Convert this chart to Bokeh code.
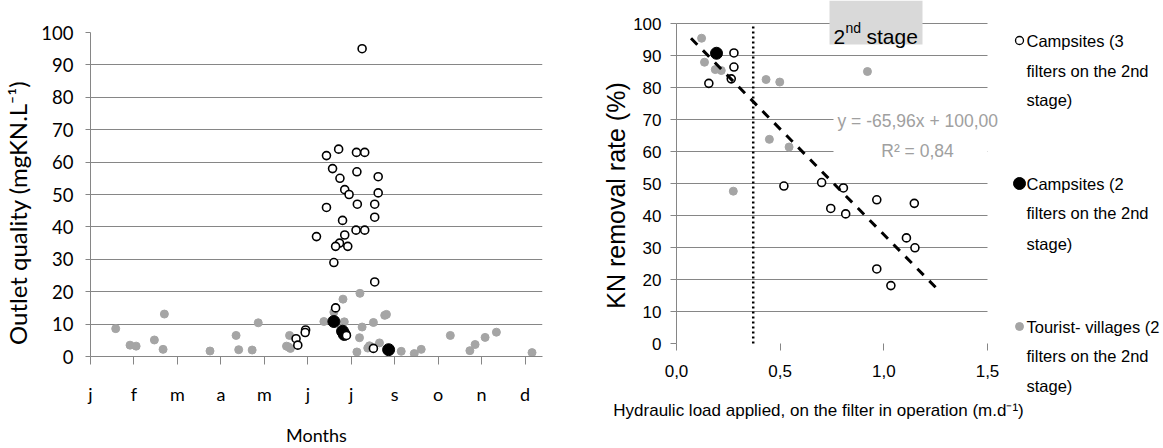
import math
from bokeh.plotting import figure
from bokeh.layouts import row
from bokeh.models import FixedTicker, Range1d
from bokeh.core.properties import value
from bokeh.embed import file_html
from bokeh.resources import INLINE

# ---------------- Left panel data (outlet quality by month) ----------------
month_labels = ["j", "f", "m", "a", "m", "j", "j", "s", "o", "n", "d"]
month_ticks = list(range(len(month_labels)))
kn_ticks = list(range(0, 101, 10))

camp3_month = [6.25, 5.43, 5.71, 6.12, 6.31, 5.57, 6.13, 5.74, 6.62, 5.85, 5.95, 6.62,
               5.43, 6.14, 6.54, 6.54, 5.80, 6.11, 6.31, 5.85, 5.20, 5.73, 5.64, 5.92,
               5.60, 6.54, 5.64, 4.95, 4.94, 4.73, 4.77, 5.89, 6.51]
camp3_kn = [95, 62, 64, 63, 63, 58, 57, 55, 55.5, 51.5, 50, 50.5,
            46, 47, 47, 43, 42, 39, 39, 37.5, 37, 35, 34, 34,
            29, 23, 15, 8.2, 7.4, 5.5, 3.5, 6.5, 2.5]

camp2_month = [5.60, 5.80, 5.84, 6.86]
camp2_kn = [10.8, 7.8, 6.8, 2.1]

tour_month = [0.58, 0.91, 1.05, 1.47, 1.70, 1.67, 2.75, 3.35, 3.41, 3.72, 3.86, 4.58,
              4.51, 4.60, 4.55, 5.37, 5.60, 5.81, 5.84, 6.20, 6.25, 6.19, 6.13, 6.38,
              6.42, 6.51, 6.65, 6.77, 6.81, 7.15, 7.45, 7.61, 8.28, 8.73, 8.85, 9.08,
              9.34, 10.16]
tour_kn = [8.6, 3.5, 3.2, 5.1, 13.1, 2.2, 1.7, 6.5, 2.1, 2.0, 10.4, 6.5,
           3.2, 2.5, 3.0, 10.8, 13.7, 17.7, 10.7, 19.5, 9.1, 5.8, 1.4, 2.6,
           3.3, 10.5, 4.2, 12.7, 13.0, 1.6, 0.9, 2.2, 6.5, 1.8, 3.7, 5.9,
           7.5, 1.2]

# ---------------- Right panel data (removal rate vs hydraulic load) ----------------
load_ticks = [0, 0.5, 1.0, 1.5]
load_tick_labels = ["0,0", "0,5", "1,0", "1,5"]
rate_ticks = list(range(0, 101, 10))

r_camp3_load = [0.277, 0.277, 0.264, 0.156, 0.518, 0.700, 0.805, 0.744, 0.816,
                0.966, 1.147, 1.109, 1.150, 0.966, 1.034]
r_camp3_rate = [90.8, 86.4, 82.7, 81.3, 49.2, 50.3, 48.6, 42.2, 40.5,
                44.9, 43.8, 33.0, 29.9, 23.3, 18.1]
r_camp2_load = [0.193]
r_camp2_rate = [90.7]
r_tour_load = [0.121, 0.135, 0.187, 0.216, 0.432, 0.498, 0.448, 0.543, 0.274, 0.921]
r_tour_rate = [95.4, 87.9, 85.6, 85.3, 82.5, 81.7, 63.8, 61.4, 47.6, 85.0]

reg_slope = -65.96
reg_intercept = 100.00
reg_x = [0.07, 1.26]
reg_y = [reg_slope * x + reg_intercept for x in reg_x]
stage_limit = 0.37

legend_lines = [
    ["Campsites (3", "filters on the 2nd", "stage)"],
    ["Campsites (2", "filters on the 2nd", "stage)"],
    ["Tourist- villages (2", "filters on the 2nd", "stage)"],
]

GRID = "#868686"
GRAYPT = "#a5a5a5"
FONT_L = "Lato"
FONT_R = "Liberation Sans"
NB = "\u00a0"
H = 448
W = 1163

# ---- pixel geometry of the reference ----
P1_W = 554
L_LEFT, L_RIGHT, L_TOP, L_BOTTOM = 88, 542, 32, 358
L_MPX = 43.65

R_START = P1_W
R_LEFT = 676                       # pixel of x = 0
R_X15 = 987                        # pixel of x = 1.5
R_XPX = (R_X15 - R_LEFT) / 1.5
R_Y0, R_Y100 = 343, 23
R_PPU = (R_Y0 - R_Y100) / 100.0


def rx(px):
    return (px - R_LEFT) / R_XPX


def ry(py):
    return (R_Y0 - py) / R_PPU


# ================= Left figure =================
p1 = figure(width=P1_W, height=H,
            x_range=Range1d(0, (L_RIGHT - L_LEFT) / L_MPX), y_range=Range1d(0, 100),
            min_border_left=L_LEFT, min_border_right=P1_W - L_RIGHT,
            min_border_top=L_TOP, min_border_bottom=H - L_BOTTOM,
            toolbar_location=None, output_backend="svg")
p1.frame_align = False
p1.outline_line_color = None

p1.xaxis.ticker = FixedTicker(ticks=month_ticks)
p1.xaxis.major_label_overrides = {i: lab for i, lab in enumerate(month_labels)}
p1.xaxis.axis_line_color = GRID
p1.xaxis.major_tick_line_color = GRID
p1.xaxis.major_tick_in = 0
p1.xaxis.major_tick_out = 8
p1.xaxis.minor_tick_line_color = None
p1.xaxis.major_label_text_font = FONT_L
p1.xaxis.major_label_text_font_size = "18px"
p1.xaxis.major_label_text_color = "black"
p1.xaxis.major_label_standoff = 18
p1.xaxis.axis_label = "Months"
p1.xaxis.axis_label_text_font = FONT_L
p1.xaxis.axis_label_text_font_size = "18px"
p1.xaxis.axis_label_text_font_style = "normal"
p1.xaxis.axis_label_text_color = "black"
p1.xaxis.axis_label_standoff = 16

p1.yaxis.ticker = FixedTicker(ticks=kn_ticks)
p1.yaxis.axis_line_color = GRID
p1.yaxis.major_tick_line_color = GRID
p1.yaxis.major_tick_in = 0
p1.yaxis.major_tick_out = 5
p1.yaxis.minor_tick_line_color = None
p1.yaxis.major_label_text_font = FONT_L
p1.yaxis.major_label_text_font_size = "18.5px"
p1.yaxis.major_label_text_color = "black"
p1.yaxis.major_label_standoff = 12
p1.yaxis.axis_label = "Outlet quality (mgKN.L\u207b\u00b9)" + NB * 6
p1.yaxis.axis_label_text_font = FONT_L
p1.yaxis.axis_label_text_font_size = "24px"
p1.yaxis.axis_label_text_font_style = "normal"
p1.yaxis.axis_label_text_color = "black"
p1.yaxis.axis_label_standoff = 6

p1.xgrid.grid_line_color = None
p1.ygrid.ticker = FixedTicker(ticks=kn_ticks[1:])
p1.ygrid.grid_line_color = GRID

p1.scatter(tour_month, tour_kn, size=8, fill_color=GRAYPT, line_color=GRAYPT)
p1.scatter(camp2_month, camp2_kn, size=12, fill_color="black", line_color="black")
p1.scatter(camp3_month, camp3_kn, size=8, fill_color="white", line_color="black", line_width=1.6)

# ================= Right figure: frame covers the whole canvas, axes at fixed locations =================
W2 = W - R_START
p2 = figure(width=W2, height=H,
            x_range=Range1d(rx(R_START), rx(W)), y_range=Range1d(ry(H), ry(0)),
            min_border=0, toolbar_location=None, output_backend="svg")
p2.frame_align = False
p2.outline_line_color = None

p2.xaxis.fixed_location = 0
p2.xaxis.ticker = FixedTicker(ticks=load_ticks)
p2.xaxis.major_label_overrides = {t: l for t, l in zip(load_ticks, load_tick_labels)}
p2.xaxis.axis_line_color = None
p2.xaxis.major_tick_line_color = GRID
p2.xaxis.major_tick_in = 0
p2.xaxis.major_tick_out = 7
p2.xaxis.minor_tick_line_color = None
p2.xaxis.major_label_text_font = FONT_R
p2.xaxis.major_label_text_font_size = "17px"
p2.xaxis.major_label_text_color = "black"
p2.xaxis.major_label_standoff = 14

p2.yaxis.fixed_location = 0
p2.yaxis.ticker = FixedTicker(ticks=rate_ticks)
p2.yaxis.axis_line_color = None
p2.yaxis.major_tick_line_color = GRID
p2.yaxis.major_tick_in = 0
p2.yaxis.major_tick_out = 6
p2.yaxis.minor_tick_line_color = None
p2.yaxis.major_label_text_font = FONT_R
p2.yaxis.major_label_text_font_size = "17px"
p2.yaxis.major_label_text_color = "black"
p2.yaxis.major_label_standoff = 9

p2.grid.grid_line_color = None
# horizontal gridlines only across the plotting area (0 .. 1.5)
grid_levels = rate_ticks[1:]
p2.segment(x0=[load_ticks[0]] * len(grid_levels), y0=grid_levels,
           x1=[load_ticks[-1]] * len(grid_levels), y1=grid_levels, line_color=GRID, line_width=1)
# y axis line from 0 to 100
p2.segment(x0=[0], y0=[rate_ticks[0]], x1=[0], y1=[rate_ticks[-1]], line_color=GRID, line_width=1)

# "2nd stage" box and white box behind the equation
p2.quad(left=[rx(829)], right=[rx(922)], bottom=[ry(44)], top=[ry(0)],
        fill_color="#d9d9d9", line_color=None)
p2.quad(left=[rx(833)], right=[load_ticks[-1]], bottom=[55], top=[76], fill_color="white", line_color=None)

p2.text(x=[rx(833)], y=[ry(36)], text=["2"], text_font=value(FONT_R), text_font_size="21px",
        text_baseline="alphabetic", text_color="black")
p2.text(x=[rx(845)], y=[ry(27)], text=["nd"], text_font=value(FONT_R), text_font_size="14px",
        text_baseline="alphabetic", text_color="black")
p2.text(x=[rx(866)], y=[ry(36)], text=["stage"], text_font=value(FONT_R), text_font_size="21px",
        text_baseline="alphabetic", text_color="black")

# vertical dotted stage limit
p2.segment(x0=[stage_limit], y0=[0], x1=[stage_limit], y1=[100], line_color="black",
           line_width=2.5, line_dash="2 3")

p2.scatter(r_tour_load, r_tour_rate, size=8, fill_color=GRAYPT, line_color=GRAYPT)
p2.scatter(r_camp3_load, r_camp3_rate, size=8, fill_color="white", line_color="black", line_width=1.6)
p2.line(reg_x, reg_y, line_color="black", line_width=3, line_dash="9 8")
p2.scatter(r_camp2_load, r_camp2_rate, size=12, fill_color="black", line_color="black")

# regression equation
p2.text(x=[rx(837)], y=[ry(120)], text=["y = -65,96x + 100,00"], text_font=value(FONT_R),
        text_font_size="17.5px", text_color="#a0a0a0", text_baseline="middle", text_align="left")
p2.text(x=[rx(917)], y=[ry(150)], text=["R\u00b2 = 0,84"], text_font=value(FONT_R),
        text_font_size="17.5px", text_color="#a0a0a0", text_baseline="middle", text_align="center")

# axis titles
p2.text(x=[rx(615)], y=[ry(195)], text=["KN removal rate (%)"], angle=math.pi / 2,
        text_font=value(FONT_R), text_font_size="25px", text_color="black",
        text_baseline="middle", text_align="center")
p2.text(x=[rx(818)], y=[ry(410)],
        text=["Hydraulic load applied, on the filter in operation (m.d\u207b\u00b9)"],
        text_font=value(FONT_R), text_font_size="17px", text_color="black",
        text_baseline="middle", text_align="center")

# legend
legend_rows_px = [[40, 70, 99], [183, 212, 243], [326, 355, 385]]
p2.scatter([rx(1019)], [ry(legend_rows_px[0][0])], size=8, fill_color="white",
           line_color="black", line_width=1.3)
p2.scatter([rx(1019)], [ry(legend_rows_px[1][0])], size=12, fill_color="black", line_color="black")
p2.scatter([rx(1019)], [ry(legend_rows_px[2][0])], size=8, fill_color=GRAYPT, line_color=GRAYPT)
for lines, ys in zip(legend_lines, legend_rows_px):
    p2.text(x=[rx(1026)] * len(lines), y=[ry(v) for v in ys], text=lines,
            text_font=value(FONT_R), text_font_size="16.5px",
            text_baseline="middle", text_align="left", text_color="black")

layout = row(p1, p2)
open("out.html", "w").write(file_html(layout, INLINE))
